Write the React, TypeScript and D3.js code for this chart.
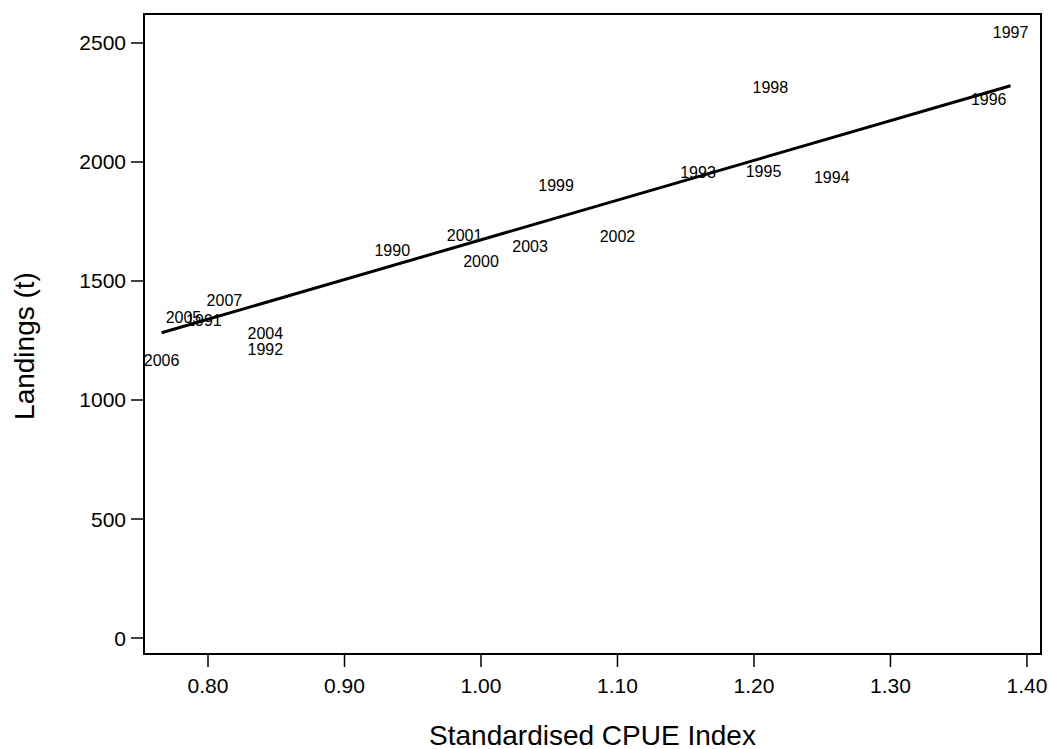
import React from "react";
import * as d3 from "d3";

// Year labels plotted at (standardised CPUE index, landings in tonnes)
const years = [1990, 1991, 1992, 1993, 1994, 1995, 1996, 1997, 1998, 1999, 2000, 2001, 2002, 2003, 2004, 2005, 2006, 2007];
const cpue = [0.935, 0.797, 0.842, 1.159, 1.257, 1.207, 1.372, 1.388, 1.212, 1.055, 1.0, 0.988, 1.1, 1.036, 0.842, 0.782, 0.766, 0.812];
const landings = [1630, 1332, 1214, 1954, 1933, 1958, 2261, 2542, 2315, 1903, 1580, 1693, 1685, 1643, 1281, 1345, 1168, 1416];

// Fitted linear relationship: landings = intercept + slope * cpue
const fitIntercept = [4];
const fitSlope = [1669];

const xTicks = [0.8, 0.9, 1.0, 1.1, 1.2, 1.3, 1.4];
const yTicks = [0, 500, 1000, 1500, 2000, 2500];

const W = 1049;
const H = 749;
const left = 144;
const right = 1041;
const top = 14;
const bottom = 654;
const font = "'Liberation Sans', Arial, Helvetica, sans-serif";

export default function App() {
  const x = d3.scaleLinear().domain([0.7531, 1.4103]).range([left, right]);
  const y = d3.scaleLinear().domain([-67.2, 2621.8]).range([bottom, top]);

  const xMin = d3.min(cpue) as number;
  const xMax = d3.max(cpue) as number;
  const fit = (v: number) => fitIntercept[0] + fitSlope[0] * v;
  const line = d3
    .line<number>()
    .x((d) => x(d))
    .y((d) => y(fit(d)));

  return (
    <svg
      width={W}
      height={H}
      style={{ position: "absolute", left: 0, top: 0, background: "#fff" }}
      fontFamily={font}
    >
      <rect x={0} y={0} width={W} height={H} fill="#fff" />
      {/* plot frame */}
      <rect x={left} y={top} width={right - left} height={bottom - top} fill="none" stroke="#000" strokeWidth={2} />

      {/* x axis */}
      {xTicks.map((t) => (
        <g key={t}>
          <line x1={x(t)} x2={x(t)} y1={bottom} y2={bottom + 13} stroke="#000" strokeWidth={1.5} />
          <text x={x(t)} y={685} textAnchor="middle" dominantBaseline="central" fontSize={21} fill="#000">
            {t.toFixed(2)}
          </text>
        </g>
      ))}

      {/* y axis */}
      {yTicks.map((t) => (
        <g key={t}>
          <line x1={left - 13} x2={left} y1={y(t)} y2={y(t)} stroke="#000" strokeWidth={1.5} />
          <text x={126} y={y(t)} textAnchor="end" dominantBaseline="central" fontSize={21} fill="#000">
            {t}
          </text>
        </g>
      ))}

      {/* fitted line */}
      <path d={line([xMin, xMax]) || ""} fill="none" stroke="#000" strokeWidth={3} />

      {/* year labels */}
      {years.map((yr, i) => (
        <text
          key={yr}
          x={x(cpue[i])}
          y={y(landings[i])}
          textAnchor="middle"
          dominantBaseline="central"
          fontSize={16}
          fill="#000"
        >
          {yr}
        </text>
      ))}

      {/* axis titles */}
      <text x={(left + right) / 2} y={735} textAnchor="middle" dominantBaseline="central" fontSize={28} fill="#000">
        Standardised CPUE Index
      </text>
      <text
        transform={`translate(24, 346) rotate(-90)`}
        textAnchor="middle"
        dominantBaseline="central"
        fontSize={28}
        fill="#000"
      >
        Landings (t)
      </text>
    </svg>
  );
}
